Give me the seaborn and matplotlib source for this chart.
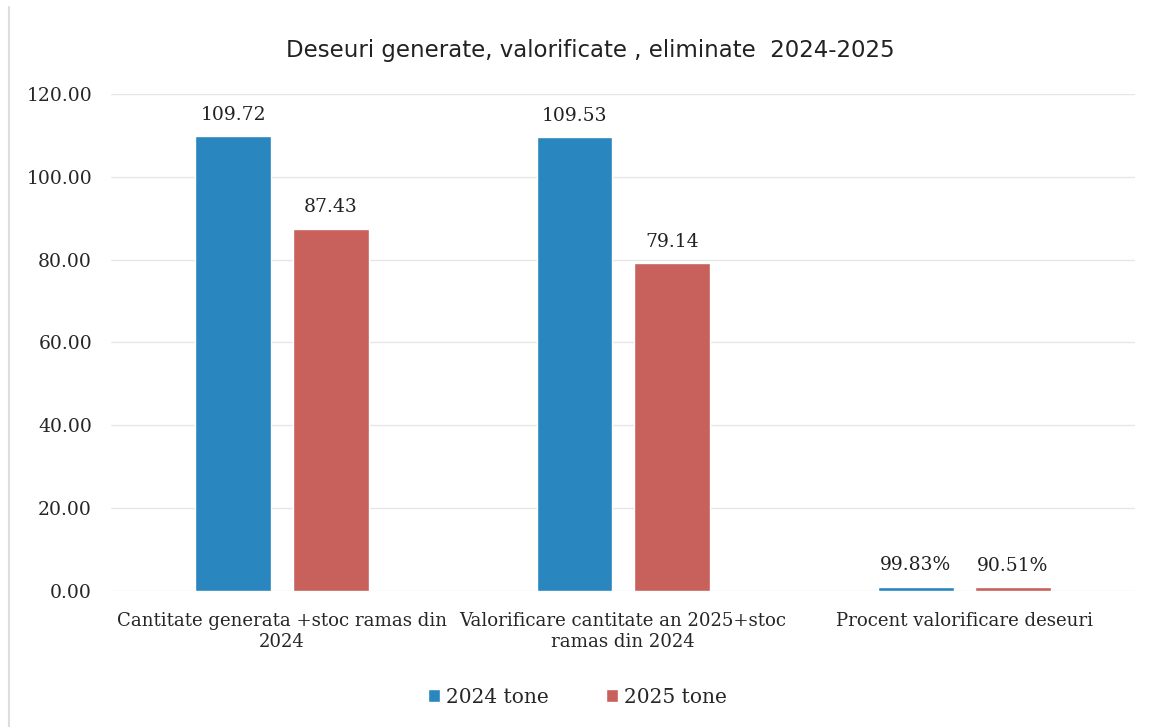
import pandas as pd
import matplotlib.pyplot as plt
import seaborn as sns

# data
categories = ["Cantitate generata +stoc ramas din\n2024",
              "Valorificare cantitate an 2025+stoc\nramas din 2024",
              "Procent valorificare deseuri"]
val_2024 = [109.72, 109.53, 0.9983]
val_2025 = [87.43, 79.14, 0.9051]
series = ["2024 tone", "2025 tone"]

df = pd.DataFrame({
    "cat": categories * 2,
    "val": val_2024 + val_2025,
    "serie": [series[0]] * 3 + [series[1]] * 3,
})

sns.set_style("white")
plt.rcParams["font.family"] = ["DejaVu Serif"]

fig = plt.figure(figsize=(11.55, 7.27), dpi=100)
ax = fig.add_axes([0.0965, 0.187, 0.886, 0.684])

sns.barplot(data=df, x="cat", y="val", hue="serie",
            palette=["#2a86bf", "#c8615b"], width=0.57, gap=0.22,
            saturation=1, ax=ax)

ax.set_ylim(0, 120)
ax.set_yticks(range(0, 121, 20))
ax.set_yticklabels([f"{v:.2f}" for v in range(0, 121, 20)], fontsize=13.5)
ax.yaxis.grid(True, color="#e6e6e6", lw=1)
ax.set_axisbelow(True)
for s in ax.spines.values():
    s.set_visible(False)
ax.tick_params(axis="y", length=0, pad=14)
ax.tick_params(axis="x", length=0, labelsize=13.1, pad=15)
ax.set_xlabel("")
ax.set_ylabel("")

# value labels
for i, cont in enumerate(ax.containers):
    vals = val_2024 if i == 0 else val_2025
    labels = [f"{v:.2f}" for v in vals[:2]] + [f"{vals[2]*100:.2f}%"]
    ax.bar_label(cont, labels=labels, padding=9, fontsize=13.5, color="#222222")

fig.text(0.511, 0.931, "Deseuri generate, valorificate , eliminate  2024-2025",
         fontsize=16.5, family=["DejaVu Sans"], color="#222222",
         ha="center", va="center")

leg = ax.legend(loc="center", bbox_to_anchor=(0.5, 0.041),
                bbox_transform=fig.transFigure, ncol=2,
                frameon=False, fontsize=14.5, handlelength=0.6, handleheight=0.6,
                columnspacing=2.8, handletextpad=0.3)

# page border line on left
fig.add_artist(plt.Line2D([0.008, 0.008], [0.0, 0.99], color="#dddddd", lw=1.5))

fig.savefig("out.png", dpi=100)
